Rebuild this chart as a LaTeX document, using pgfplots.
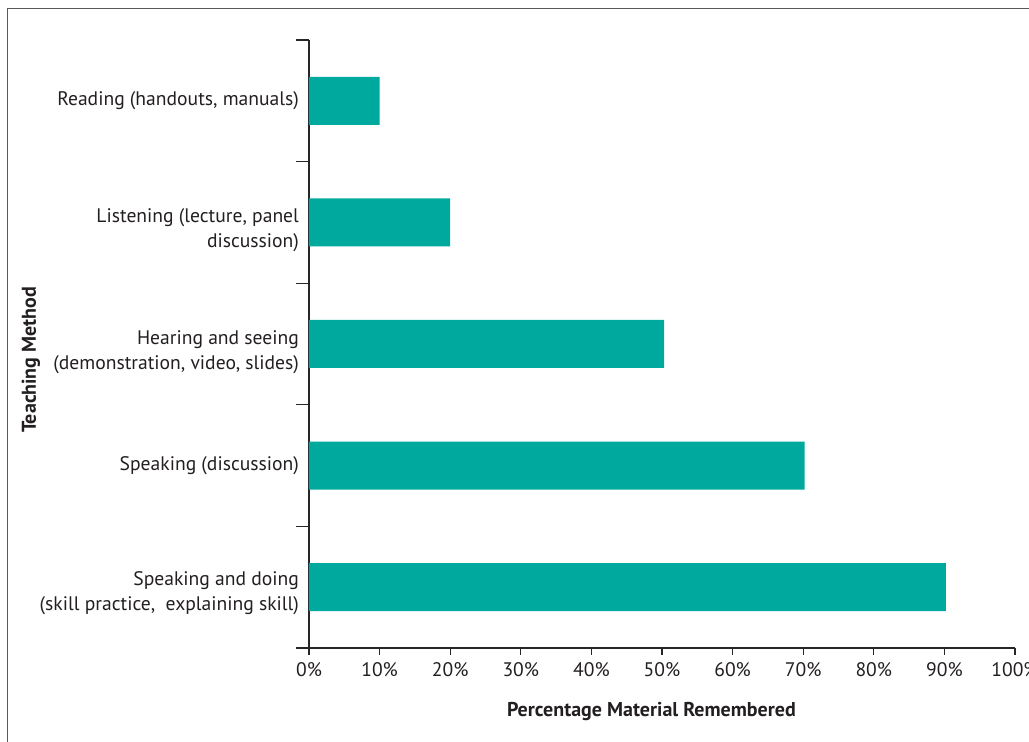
\documentclass[border=0pt]{standalone}
\usepackage{pgfplots}
\pgfplotsset{compat=1.18}
\usepackage{fontspec}
\setmainfont{PT Sans}
\definecolor{teal1}{HTML}{00A99D}
\definecolor{txt}{HTML}{231F20}
\newcommand\lab[2]{\raisebox{#1}[0pt][0pt]{\begin{tabular}[t]{@{}r@{}}#2\end{tabular}}}
\begin{document}
\begin{tikzpicture}[x=1pt,y=1pt]
\path[use as bounding box] (0,0) rectangle (514.5,371);
\draw[line width=0.9pt,color=black!65] (3.75,0) -- (3.75,366.75) -- (514.5,366.75);
\begin{axis}[
  at={(154.5pt,47pt)}, anchor=south west,
  scale only axis, width=353pt, height=304pt,
  xmin=0, xmax=100, ymin=0.5, ymax=5.5,
  y dir=reverse,
  axis x line*=bottom, axis y line*=left,
  axis line style={line width=0.6pt, color=black!85},
  every tick/.style={line width=0.6pt, color=black!85},
  major tick length=6.5pt,
  tick align=outside,
  xtick=\empty,
  extra x ticks={0,10,...,100},
  extra x tick labels={0\%,10\%,20\%,30\%,40\%,50\%,60\%,70\%,80\%,90\%,100\%},
  extra x tick style={major tick length=3.5pt, tick align=outside},
  ytick={0.5,1.5,2.5,3.5,4.5,5.5},
  yticklabels={},
  extra y ticks={1,2,3,4,5},
  extra y tick labels={
    {\lab{-2.5pt}{Reading (handouts, manuals)}},
    {\lab{0pt}{Listening (lecture, panel\\discussion)}},
    {\lab{-0.3pt}{Hearing and seeing\\(demonstration, video, slides)}},
    {\lab{-2.5pt}{Speaking (discussion)}},
    {\lab{1pt}{Speaking and doing\\(skill practice,~ explaining skill)}}},
  extra y tick style={major tick length=0pt},
  yticklabel style={font=\fontsize{9.8}{12.5}\selectfont, text=txt, xshift=-1.5pt},
  xticklabel style={font=\fontsize{9.8}{11}\selectfont, text=txt},
  xlabel={\textbf{Percentage Material Remembered}},
  xlabel style={font=\fontsize{10}{11}\selectfont, text=txt, at={(axis description cs:0.485,0)}, anchor=north, yshift=-23.5pt},
  ylabel={\textbf{Teaching Method}},
  ylabel style={font=\fontsize{10}{11}\selectfont, text=txt, at={(axis description cs:-0.394,0.474)}, anchor=center},
  clip=false,
]
\addplot[xbar, bar width=24pt, fill=teal1, draw=none] coordinates {(10,1) (20,2) (50.3,3) (70.2,4) (90.2,5)};
\end{axis}
\end{tikzpicture}
\end{document}
